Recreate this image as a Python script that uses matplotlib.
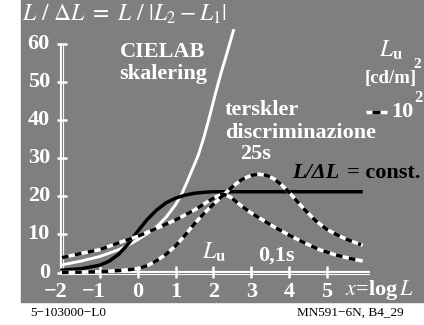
import matplotlib
matplotlib.use('Agg')
import matplotlib.pyplot as plt
from matplotlib.patches import Rectangle

plt.rcParams['font.family'] = ['Liberation Serif', 'DejaVu Serif']
plt.rcParams['mathtext.fontset'] = 'stix'

# curves (x = log L, y = L / dL)
x_cielab = [-2, -1.5, -1, -0.5, -0.25, 0, 0.25, 0.5, 0.75, 1.0, 1.15, 1.3, 1.45, 1.6,
            1.75, 1.9, 2.05, 2.2, 2.35, 2.53]
y_cielab = [2.0, 3.0, 4.2, 6.0, 7.2, 8.6, 10.2, 12.0, 14.5, 17.8, 20.3, 23.7, 27.2, 30.8,
            35.5, 41.0, 46.8, 52.3, 57.3, 63.5]

x_const = [-2, -1.5, -1, -0.75, -0.5, -0.25, 0, 0.25, 0.5, 0.75, 1, 1.25, 1.5, 1.75, 2, 3, 4, 5, 5.9]
y_const = [0.6, 1.0, 1.9, 3.0, 4.8, 7.5, 10.8, 13.9, 16.4, 18.3, 19.5, 20.3, 20.8, 21.05, 21.2,
           21.2, 21.2, 21.2, 21.2]

x_01s = [-2, -1.5, -1, -0.5, 0, 0.5, 1.0, 1.5, 1.8, 2.05, 2.25, 2.45, 2.7, 3.0, 3.3, 3.6,
         4.0, 4.4, 4.8, 5.2, 5.6, 5.9]
y_01s = [3.9, 5.0, 6.0, 7.8, 9.5, 11.6, 13.8, 16.4, 18.3, 19.8, 20.6, 19.8, 17.8, 15.6, 13.8,
         12.0, 9.8, 7.8, 6.0, 4.7, 3.7, 3.1]

x_25s = [-2, -1, -0.5, 0, 0.25, 0.5, 0.75, 1.0, 1.25, 1.5, 1.75, 2.0, 2.25, 2.5, 2.75, 3.0,
         3.2, 3.4, 3.6, 3.8, 4.0, 4.2, 4.4, 4.7, 5.0, 5.3, 5.6, 5.9]
y_25s = [0.0, 0.2, 0.5, 1.0, 1.8, 3.1, 4.8, 7.0, 9.8, 12.8, 15.5, 17.9, 20.2, 22.5, 24.4, 25.5,
         25.8, 25.5, 24.6, 23.0, 21.1, 18.8, 16.6, 13.6, 11.3, 9.7, 8.4, 7.3]

y_ticks = [0, 10, 20, 30, 40, 50, 60]
x_ticks = [-2, -1, 0, 1, 2, 3, 4, 5]
x_ticklabels = ['\u22122', '\u22121', '0', '1', '2', '3', '4', '5']

gray = '#7f7f7f'
W, H = 424, 325

fig = plt.figure(figsize=(W / 100, H / 100), dpi=100)
fig.patches.append(Rectangle((21 / W, 23 / H), 403 / W, 302 / H,
                             transform=fig.transFigure, color=gray, zorder=-10))
ax = fig.add_axes([0, 0, 1, 1])
ax.set_axis_off()
ax.patch.set_alpha(0)
# pixel mapping: x=-2 at px 62, 37.85 px per unit; y=0 at px 272.5, 3.81 px per unit
ax.set_xlim(-2 - 62 / 37.85, -2 + (W - 62) / 37.85)
ax.set_ylim((272.5 - H) / 3.81, 272.5 / 3.81)


def px(x, y):
    return x / W, 1 - y / H


lw = 2.5
# axes drawn as double white lines
ax.plot([-2, -2], [0, 60], color='white', lw=3.0, solid_capstyle='butt', zorder=2)
ax.plot([-2, -2], [0, 60], color=gray, lw=0.8, solid_capstyle='butt', zorder=2)
ax.plot([-2, 6.14], [0, 0], color='white', lw=3.0, solid_capstyle='butt', zorder=2)
ax.plot([-2, 6.14], [0, 0], color=gray, lw=0.8, solid_capstyle='butt', zorder=2)
for t in y_ticks:
    ax.plot([-2 - 4.5 / 37.85, -2 + 5.5 / 37.85], [t, t], color='white', lw=1.8,
            solid_capstyle='butt', zorder=2)
for t in x_ticks[1:]:
    ax.plot([t, t], [-1.5, 1.6], color='white', lw=1.8, solid_capstyle='butt', zorder=2)

# curves
ax.plot(x_cielab, y_cielab, color='white', lw=2.1, zorder=3)
ax.plot(x_const, y_const, color='black', lw=lw, zorder=4)
for xs, ys in [(x_01s, y_01s), (x_25s, y_25s)]:
    ax.plot(xs, ys, color='white', lw=lw, zorder=5)
    ax.plot(xs, ys, color='black', lw=lw, linestyle=(0, (1.9, 1.9)), zorder=6)

bold = dict(color='white', fontsize=16, fontweight='bold')

# tick labels
for t in y_ticks:
    ax.text(-2 - 12 / 37.85, t, str(t), ha='right', va='center', **bold)
for t, lab in zip(x_ticks, x_ticklabels):
    off = -0.17 if lab.startswith('\u2212') else 0
    ax.text(t + off, -5.0, lab, ha='center', va='center', **bold)
fig.text(*px(345, 290), r'$x$=log$\,L$', ha='left', va='center',
         color='white', fontsize=16, fontweight='bold')

# title
fig.text(*px(22, 20.5), r'$L\ /\ \Delta L\ =\ L\ /\ |L_2 - L_1|$', ha='left',
         va='baseline', color='white', fontsize=17)

# annotations
fig.text(*px(163, 52), 'CIELAB', ha='center', va='center', **bold)
fig.text(*px(163, 74), 'skalering', ha='center', va='center', **bold)
fig.text(*px(225, 110), 'terskler', ha='left', va='center', **bold)
fig.text(*px(225, 133), 'discriminazione', ha='left', va='center', **bold)
fig.text(*px(240, 154), '25s', ha='left', va='center', **bold)
fig.text(*px(292, 173), 'L/\u0394L', ha='left', va='center', color='black',
         fontsize=16, fontweight='bold', fontstyle='italic')
fig.text(*px(347, 173), '= const.', ha='left', va='center', color='black',
         fontsize=16, fontweight='bold')
fig.text(*px(202, 252), r'$L_\mathbf{u}$', ha='left', va='center', color='white', fontsize=17)
fig.text(*px(258, 256), '0,1s', ha='left', va='center', **bold)

# legend at upper right
fig.text(*px(379, 50), r'$L_\mathbf{u}$', ha='left', va='center', color='white', fontsize=17)
fig.text(*px(365, 79), '[cd/m]', ha='left', va='center', color='white',
         fontsize=13.5, fontweight='bold')
fig.text(*px(413, 64), '2', ha='left', va='center', color='white', fontsize=11, fontweight='bold')
fig.lines.append(plt.Line2D([366 / W, 387 / W], [1 - 112 / H] * 2, transform=fig.transFigure,
                            color='white', lw=lw, solid_capstyle='butt'))
fig.lines.append(plt.Line2D([372 / W, 380 / W], [1 - 112 / H] * 2, transform=fig.transFigure,
                            color='black', lw=lw, solid_capstyle='butt'))
fig.text(*px(391, 112), '10', ha='left', va='center', **bold)
fig.text(*px(414, 98), '2', ha='left', va='center', color='white', fontsize=12, fontweight='bold')

# footer
fig.text(*px(30, 313), '5\u2212103000\u2212L0', ha='left', va='center', color='black', fontsize=9.5)
fig.text(*px(297, 313), 'MN591\u22126N, B4_29', ha='left', va='center', color='black', fontsize=9.5)

fig.savefig('out.png', dpi=100, facecolor='white')
